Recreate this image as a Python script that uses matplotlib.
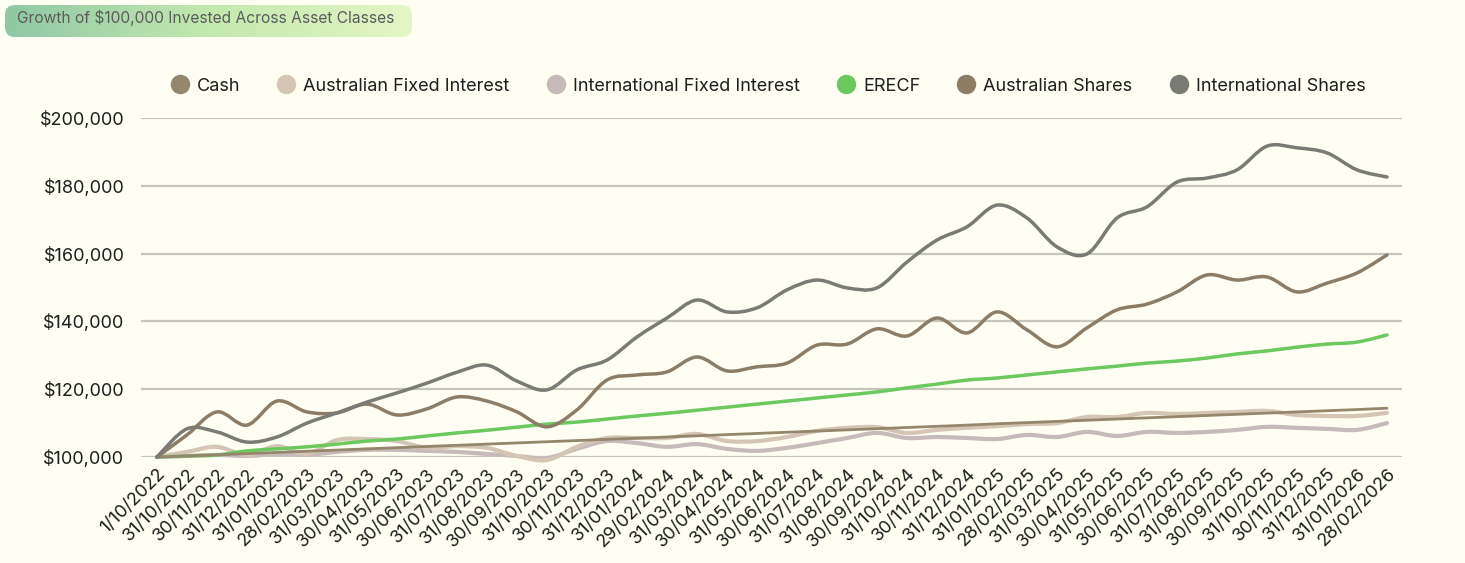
import numpy as np
import matplotlib
matplotlib.use("Agg")
import matplotlib.pyplot as plt
from matplotlib.path import Path
from matplotlib.patches import PathPatch, FancyBboxPatch
from matplotlib.lines import Line2D
from matplotlib.colors import LinearSegmentedColormap
from matplotlib.ticker import FuncFormatter

plt.rcParams['font.family'] = ['Inter', 'DejaVu Sans']

dates = ["1/10/2022", "31/10/2022", "30/11/2022", "31/12/2022", "31/01/2023", "28/02/2023",
         "31/03/2023", "30/04/2023", "31/05/2023", "30/06/2023", "31/07/2023", "31/08/2023",
         "30/09/2023", "31/10/2023", "30/11/2023", "31/12/2023", "31/01/2024", "29/02/2024",
         "31/03/2024", "30/04/2024", "31/05/2024", "30/06/2024", "31/07/2024", "31/08/2024",
         "30/09/2024", "31/10/2024", "30/11/2024", "31/12/2024", "31/01/2025", "28/02/2025",
         "31/03/2025", "30/04/2025", "31/05/2025", "30/06/2025", "31/07/2025", "31/08/2025",
         "30/09/2025", "31/10/2025", "30/11/2025", "31/12/2025", "31/01/2026", "28/02/2026"]

cash = [100000, 100300, 100650, 101000, 101350, 101700, 102050, 102400, 102750, 103100,
        103450, 103800, 104150, 104500, 104850, 105200, 105550, 105900, 106250, 106600,
        106950, 107300, 107650, 108000, 108350, 108700, 109050, 109400, 109800, 110150,
        110500, 110850, 111200, 111550, 111900, 112250, 112600, 112950, 113300, 113650,
        114000, 114400]
aus_fixed = [100000, 101500, 103000, 100600, 103200, 100900, 105000, 105300, 104700, 102700,
             103200, 102700, 100300, 99100, 103000, 105600, 105600, 105600, 106800, 104700,
             104700, 105900, 107700, 108600, 108800, 107100, 108000, 108600, 109100, 109700,
             110000, 111800, 111800, 113000, 112700, 113000, 113300, 113600, 112400, 112100,
             112100, 113000]
intl_fixed = [100000, 100300, 100600, 100300, 100900, 100600, 101500, 102100, 102100, 101800,
              101500, 100900, 100300, 99700, 102400, 104700, 104100, 103000, 103800, 102400,
              101800, 102700, 104100, 105600, 107100, 105600, 105900, 105600, 105300, 106500,
              105900, 107400, 106200, 107400, 107100, 107400, 108000, 108900, 108600, 108300,
              108000, 110000]
erecf = [100000, 100300, 100600, 101800, 102400, 103000, 103800, 104700, 105300, 106200,
         107100, 107900, 108800, 109700, 110300, 111200, 112100, 112900, 113800, 114700,
         115600, 116500, 117400, 118300, 119200, 120400, 121500, 122700, 123300, 124200,
         125100, 126000, 126800, 127700, 128300, 129200, 130400, 131300, 132400, 133300,
         133900, 136000]
aus_shares = [100000, 106500, 113300, 109400, 116500, 113300, 113000, 115600, 112400, 114200,
              117700, 116500, 113300, 108900, 113900, 122700, 124200, 125100, 129500, 125400,
              126600, 127700, 133000, 133300, 137800, 135700, 141000, 136600, 142800, 137500,
              132500, 138100, 143400, 145100, 148700, 153700, 152200, 153100, 148700, 151300,
              154300, 159600]
intl_shares = [100000, 108300, 107400, 104400, 105900, 110000, 113000, 116200, 118900, 121800,
               125000, 127100, 122400, 119800, 125700, 128600, 135400, 141000, 146300, 142800,
               144000, 149300, 152200, 149900, 149900, 157500, 164000, 167900, 174300, 170500,
               162000, 159900, 170500, 173800, 181100, 182300, 184700, 191700, 191200, 189700,
               184700, 182600]

series = [
    ("Cash", cash, "#94876b", 2.0, 6),
    ("Australian Fixed Interest", aus_fixed, "#d5c5b5", 3.0, 4),
    ("International Fixed Interest", intl_fixed, "#c6baba", 3.0, 3),
    ("ERECF", erecf, "#6cc95e", 2.5, 5),
    ("Australian Shares", aus_shares, "#8b7d66", 2.5, 7),
    ("International Shares", intl_shares, "#7b7b76", 2.5, 8),
]

W, H = 1465, 563
bg = "#fefef3"
fig = plt.figure(figsize=(W / 100, H / 100), dpi=100, facecolor=bg)
ax = fig.add_axes([141 / W, 1 - 457 / H, 1261 / W, 339 / H], facecolor=bg)


def smooth_path(xs, ys):
    # catmull-rom through the points, as bezier segments
    pts = np.column_stack([xs, ys]).astype(float)
    n = len(pts)
    verts = [pts[0]]
    codes = [Path.MOVETO]
    for i in range(n - 1):
        p0 = pts[max(i - 1, 0)]
        p1 = pts[i]
        p2 = pts[i + 1]
        p3 = pts[min(i + 2, n - 1)]
        c1 = p1 + (p2 - p0) / 6.0
        c2 = p2 - (p3 - p1) / 6.0
        verts += [c1, c2, p2]
        codes += [Path.CURVE4] * 3
    return Path(verts, codes)


x = np.arange(len(dates))
handles = []
for name, vals, col, lw, z in series:
    pp = PathPatch(smooth_path(x, vals), facecolor="none", edgecolor=col, lw=lw,
                   capstyle="round", joinstyle="round", zorder=z, clip_on=False)
    ax.add_patch(pp)
    handles.append(Line2D([], [], marker="o", linestyle="none", markersize=13,
                          markerfacecolor=col, markeredgecolor=col, label=name))

ax.set_xlim(-0.53, len(dates) - 1 + 0.5)
ax.set_ylim(100000, 200000)
ax.set_yticks([100000, 120000, 140000, 160000, 180000, 200000])
ax.yaxis.set_major_formatter(FuncFormatter(lambda v, p: "${:,.0f}".format(v)))
ax.set_xticks(x)
ax.set_xticklabels(dates, rotation=45, ha="right", va="top", rotation_mode="anchor")
ax.tick_params(axis="both", length=0, labelsize=13, colors="#1e1e1e")
ax.tick_params(axis="y", pad=12)
ax.tick_params(axis="x", pad=6)
ax.grid(axis="y", color="#c6c6ba", lw=1.6, zorder=0)
for s in ax.spines.values():
    s.set_visible(False)

leg = fig.legend(handles=handles, loc="center", bbox_to_anchor=(768 / W, 1 - 86 / H),
                 ncol=6, frameon=False, fontsize=13, handlelength=1.0,
                 handletextpad=0.45, columnspacing=2.05, borderaxespad=0)
for t in leg.get_texts():
    t.set_color("#1e1e1e")

# title pill with gradient
tax = fig.add_axes([5 / W, 1 - 37 / H, 407 / W, 32 / H])
tax.axis("off")
cmap = LinearSegmentedColormap.from_list("t", ["#8fc8a4", "#c3e9ae", "#e4f6c5"])
im = tax.imshow(np.linspace(0, 1, 256).reshape(1, -1), cmap=cmap, aspect="auto",
                extent=[0, 1, 0, 1])
pill = FancyBboxPatch((0, 0), 1, 1, boxstyle="round,pad=0,rounding_size=%f" % (10 / 407),
                      mutation_aspect=407 / 32, transform=tax.transAxes)
im.set_clip_path(pill)
fig.text(17 / W, 1 - 18 / H, "Growth of $100,000 Invested Across Asset Classes",
         fontsize=11.2, color="#5b5b5b", va="center", ha="left")

fig.savefig("out.png", dpi=100, facecolor=bg)
